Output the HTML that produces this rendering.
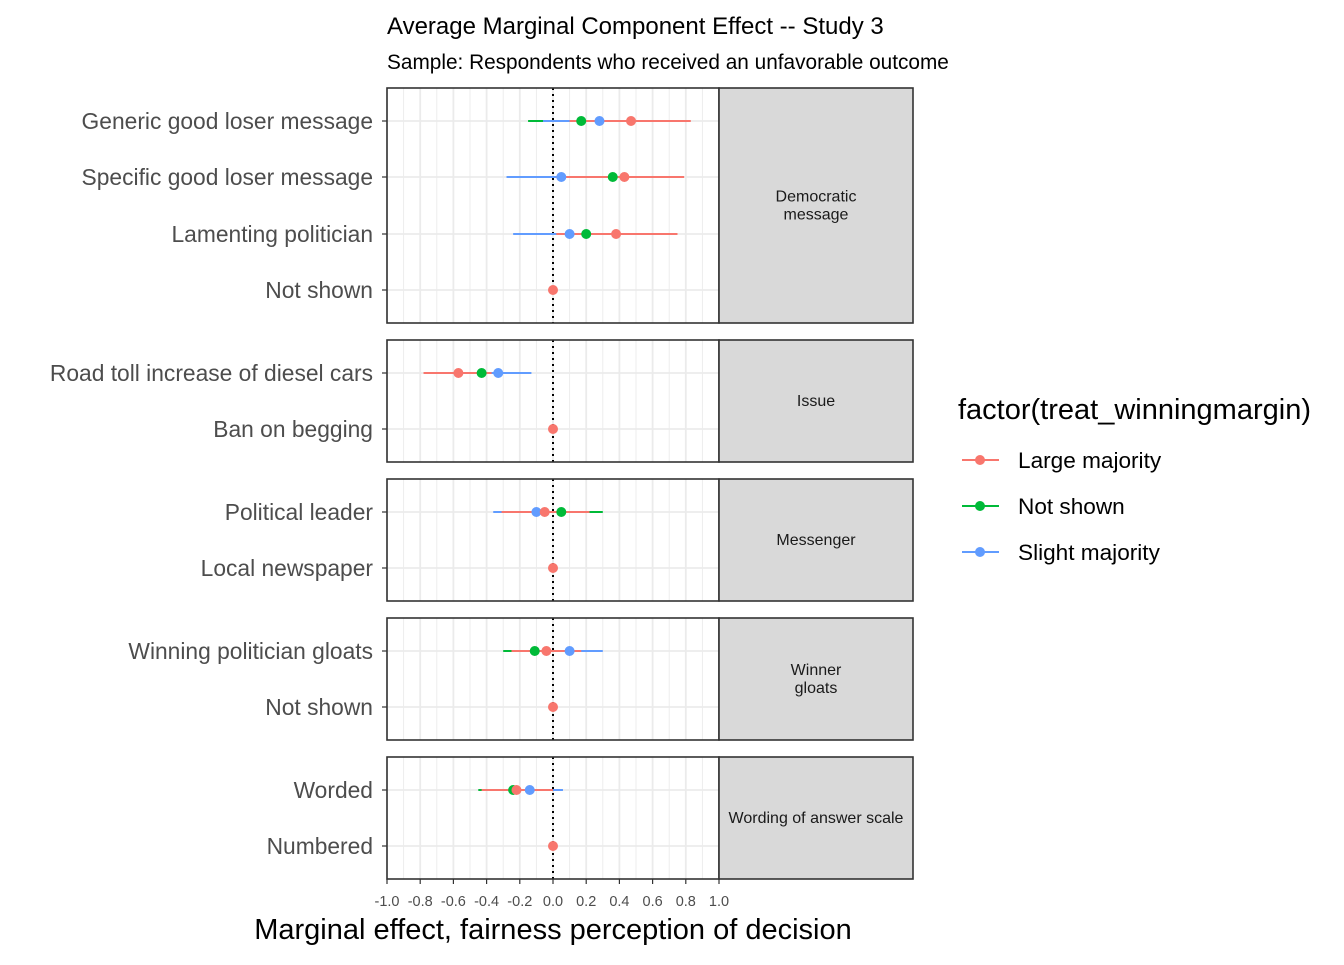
<!DOCTYPE html>
<html><head><meta charset="utf-8"><style>
body{margin:0;background:#fff;}
svg text{font-family:"Liberation Sans",Arial,sans-serif;}
</style></head><body>
<svg id="chart" width="1344" height="960" xmlns="http://www.w3.org/2000/svg">
<text x="387" y="34" font-size="24" fill="#000">Average Marginal Component Effect -- Study 3</text>
<text x="387" y="69" font-size="20.8" fill="#000">Sample: Respondents who received an unfavorable outcome</text>
<g id="panels"></g>
<text x="553" y="939" font-size="29" text-anchor="middle" fill="#000">Marginal effect, fairness perception of decision</text>
<text x="958" y="419" font-size="29" fill="#000">factor(treat_winningmargin)</text>
<g id="legend"></g>
</svg>
<script>
const seriesNames = ["Not shown","Slight majority","Large majority"];
const seriesColors = ["#00BA38","#619CFF","#F8766D"];
const panelNames = ["Democratic\nmessage","Issue","Messenger","Winner\ngloats","Wording of answer scale"];
const rowLabels = [
 ["Generic good loser message","Specific good loser message","Lamenting politician","Not shown"],
 ["Road toll increase of diesel cars","Ban on begging"],
 ["Political leader","Local newspaper"],
 ["Winning politician gloats","Not shown"],
 ["Worded","Numbered"]];
const notShownVals = [[0.17,-0.15,0.49],[0.36,-0.02,0.74],[0.20,-0.10,0.50],null, [-0.43,-0.63,-0.23],null, [0.05,-0.20,0.30],null, [-0.11,-0.30,0.08],null, [-0.24,-0.45,-0.03],null];
const slightVals = [[0.28,-0.06,0.62],[0.05,-0.28,0.38],[0.10,-0.24,0.44],null, [-0.33,-0.53,-0.13],null, [-0.10,-0.36,0.16],null, [0.10,-0.10,0.30],null, [-0.14,-0.34,0.06],null];
const largeVals = [[0.47,0.10,0.83],[0.43,0.02,0.79],[0.38,0.02,0.75],[0,0,0], [-0.57,-0.78,-0.37],[0,0,0], [-0.05,-0.31,0.22],[0,0,0], [-0.04,-0.25,0.17],[0,0,0], [-0.22,-0.43,0.00],[0,0,0]];
const xTicks = [-1.0,-0.8,-0.6,-0.4,-0.2,0.0,0.2,0.4,0.6,0.8,1.0];

const NS="http://www.w3.org/2000/svg";
const X0=387,X1=719;
const xs=v=>553+v*166;
const panelBox=[[88,323],[340,462],[479,601],[618,740],[757,879]];
const rowY=[[121,177,234,290],[373,429],[512,568],[651,707],[790,846]];
function mk(tag,attrs,parent){const e=document.createElementNS(NS,tag);for(const k in attrs)e.setAttribute(k,attrs[k]);parent.appendChild(e);return e;}
const G=document.getElementById('panels');
const allSeries=[notShownVals,slightVals,largeVals];
let flat=0;
panelNames.forEach((pn,pi)=>{
 const [y0,y1]=panelBox[pi];
 const g=mk('g',{},G);
 
 
 mk('rect',{x:X0,y:y0,width:X1-X0,height:y1-y0,fill:'#fff'},g);
 for(let i=-10;i<=10;i++){
  const v=i/10;const major=i%2===0;
  mk('line',{x1:xs(v),x2:xs(v),y1:y0,y2:y1,stroke:'#EBEBEB','stroke-width':major?1.8:0.9},g);
 }
 rowY[pi].forEach(y=>mk('line',{x1:X0,x2:X1,y1:y,y2:y,stroke:'#EBEBEB','stroke-width':1.8},g));
 mk('line',{x1:553,x2:553,y1:y0,y2:y1,stroke:'#000','stroke-width':2,'stroke-dasharray':'2,4'},g);
 rowLabels[pi].forEach((lab,ri)=>{
  const y=rowY[pi][ri];
  const t=mk('text',{x:373,y:y+8,'font-size':22.8,'text-anchor':'end',fill:'#4D4D4D'},G);
  t.textContent=lab;
  
  
  mk('line',{x1:382,x2:387,y1:y,y2:y,stroke:'#333','stroke-width':1.2},G);
 });
 for(let ri=0;ri<rowLabels[pi].length;ri++){
  const y=rowY[pi][ri];
  allSeries.forEach((s,si)=>{
   const d=s[flat+ri]; if(!d) return;
   const l=mk('line',{x1:xs(d[1]),x2:xs(d[2]),y1:y,y2:y,stroke:seriesColors[si],'stroke-width':2},g);
   
   
  });
  allSeries.forEach((s,si)=>{
   const d=s[flat+ri]; if(!d) return;
   const c=mk('circle',{cx:xs(d[0]),cy:y,r:5,fill:seriesColors[si]},g);
   
   
  });
 }
 flat+=rowLabels[pi].length;
 mk('rect',{x:X0,y:y0,width:X1-X0,height:y1-y0,fill:'none',stroke:'#333','stroke-width':1.6},g);
 mk('rect',{x:X1,y:y0,width:194,height:y1-y0,fill:'#D9D9D9',stroke:'#333','stroke-width':1.6},g);
 const lines=pn.split('\n');const cy=(y0+y1)/2;
 lines.forEach((ln,li)=>{
  const t=mk('text',{x:816,y:cy+5+(li-(lines.length-1)/2)*18,'font-size':16,'text-anchor':'middle',fill:'#1A1A1A'},g);
  t.textContent=ln;
  
  
 });
});
xTicks.forEach(v=>{
 mk('line',{x1:xs(v),x2:xs(v),y1:879,y2:884,stroke:'#333','stroke-width':1.2},G);
 const t=mk('text',{x:xs(v),y:906,'font-size':14.5,'text-anchor':'middle',fill:'#4D4D4D'},G);
 t.textContent=v.toFixed(1);
 
 
});
const L=document.getElementById('legend');
const legOrder=[2,0,1];
legOrder.forEach((si,i)=>{
 const y=460+i*46;
 const g=mk('g',{},L);
 
 
 mk('line',{x1:962,x2:999,y1:y,y2:y,stroke:seriesColors[si],'stroke-width':2},g);
 mk('circle',{cx:980,cy:y,r:5,fill:seriesColors[si]},g);
 const t=mk('text',{x:1018,y:y+8,'font-size':22.6,fill:'#000'},g);
 t.textContent=seriesNames[si];
});
</script>
</body></html>
